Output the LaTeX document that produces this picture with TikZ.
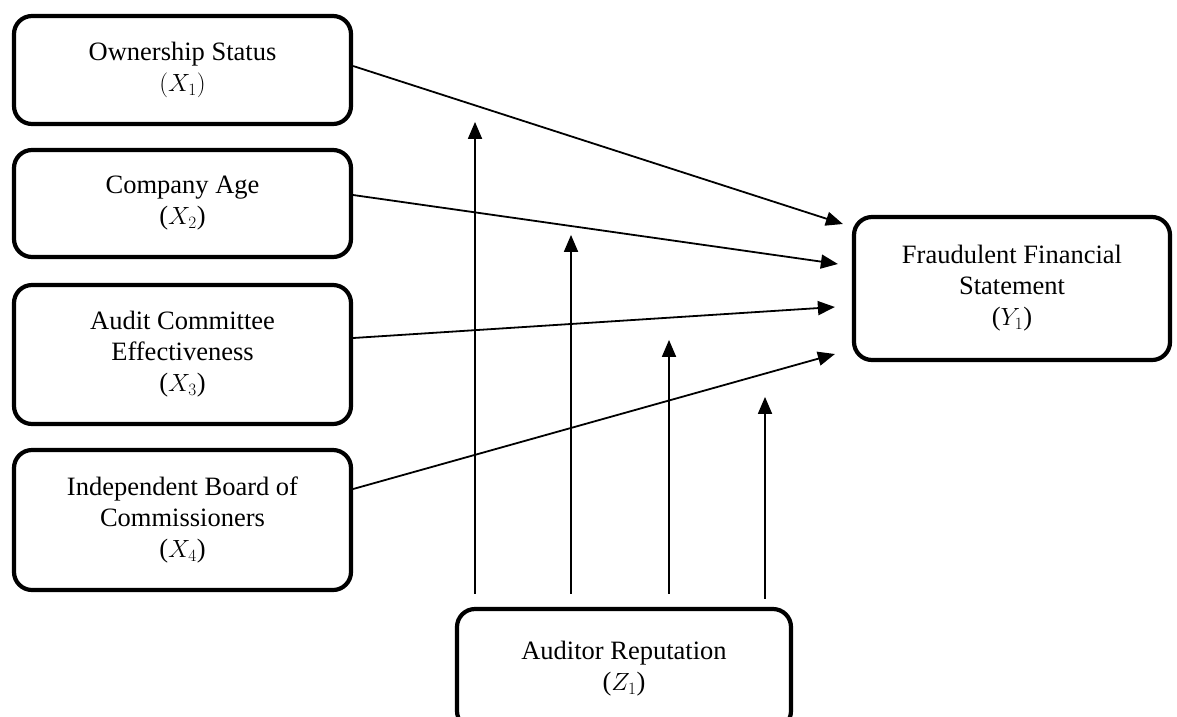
\documentclass[tikz,border=0pt]{standalone}
\usepackage{fontspec}
\setmainfont{Liberation Serif}
\usetikzlibrary{arrows.meta,calc}

\begin{document}
\begin{tikzpicture}[x=1pt,y=-1pt,
  var/.style={draw,line width=4.2pt,rounded corners=18pt,align=center,
    inner sep=0pt,font=\fontsize{26.5}{31}\selectfont},
  link/.style={line width=1.8pt,-{Triangle[length=17pt,width=14pt]}}]

  \useasboundingbox (0,0) rectangle (1177,716);

  \node (x1) [var,minimum width=337pt,minimum height=108pt] at (182.5,70)    {Ownership Status\\$(X_1)$};
  \node (x2) [var,minimum width=337pt,minimum height=107pt] at (182.5,203.5) {Company Age\\($X_2$)};
  \node (x3) [var,minimum width=337pt,minimum height=139pt] at (182.5,354.5) {Audit Committee\\Effectiveness\\($X_3$)};
  \node (x4) [var,minimum width=337pt,minimum height=140pt] at (182.5,520)   {Independent Board of\\Commissioners\\($X_4$)};

  \node (y1) [var,minimum width=316pt,minimum height=143pt] at (1012,288.5)  {Fraudulent Financial\\Statement\\($Y_1$)};
  \node (z1) [var,minimum width=334pt,minimum height=120pt] at (624,669)     {Auditor Reputation\\($Z_1$)};

  %% -- edges
  %% independent variables
  \draw[link] ($(x1.east)+(0,-4)$)   -- ($(y1.west)+(-9,-64.5)$);
  \draw[link] ($(x2.east)+(0,-8.5)$) -- ($(y1.west)+(-14,-24.5)$);
  \draw[link] ($(x3.east)+(0,-16.5)$) -- ($(y1.west)+(-17,18.5)$);
  \draw[link] ($(x4.east)+(0,-31)$)  -- ($(y1.west)+(-17,65.5)$);
  %% moderator
  \draw[link] ($(z1.north)+(-149,-13)$) -- ($(z1.north)+(-149,-485)$);
  \draw[link] ($(z1.north)+(-53,-13)$)  -- ($(z1.north)+(-53,-372)$);
  \draw[link] ($(z1.north)+(45,-13)$)   -- ($(z1.north)+(45,-267)$);
  \draw[link] ($(z1.north)+(141,-8)$)   -- ($(z1.north)+(141,-210)$);

\end{tikzpicture}
\end{document}
